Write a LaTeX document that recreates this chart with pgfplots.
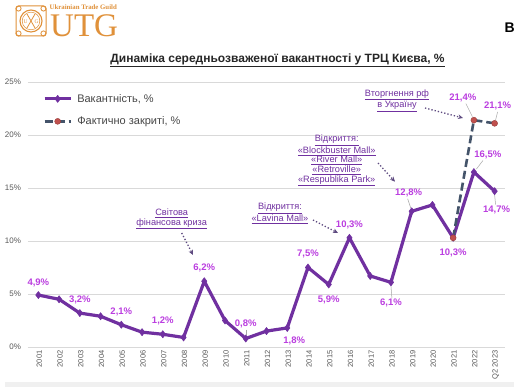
\documentclass[border=0pt]{standalone}
\usepackage{fontspec}
\setmainfont{Liberation Sans}
\newfontfamily\seriffont{Liberation Serif}
\usepackage{pgfplots}
\pgfplotsset{compat=1.18}
\usetikzlibrary{arrows.meta}
\definecolor{vac}{HTML}{7030A0}
\definecolor{lbl}{RGB}{187,62,224}
\definecolor{dsh}{HTML}{44546A}
\definecolor{red1}{HTML}{C0504D}
\definecolor{gridc}{HTML}{D9D9D9}
\definecolor{tickc}{HTML}{595959}
\definecolor{logo}{HTML}{E0913A}
\definecolor{arrc}{HTML}{5E4A80}
\definecolor{leadc}{HTML}{A6A6A6}
\begin{document}
\begin{tikzpicture}[
  dl/.style={font=\bfseries\fontsize{9.5}{10}\selectfont, text=lbl, inner sep=0pt},
  lead/.style={draw=leadc, line width=0.5pt},
  annot/.style={font=\fontsize{9.2}{9.6}\selectfont, text=vac, align=center, inner sep=0pt},
  arr/.style={draw=arrc, dotted, line width=1.3pt, -{Stealth[length=5pt,width=4.5pt]}}
]
\path[use as bounding box] (0,0) rectangle (514pt,387pt);
\fill[white] (0,0) rectangle (514pt,387pt);
\begin{axis}[
  at={(28pt,40pt)}, anchor=south west, scale only axis,
  width=477pt, height=265pt,
  xmin=-0.5, xmax=22.5, ymin=0, ymax=25,
  axis line style={draw=none},
  major tick length=0pt,
  ymajorgrids, grid style={gridc, line width=0.6pt},
  ytick={0,5,10,15,20,25},
  yticklabel={\pgfmathprintnumber{\tick}\%},
  /pgf/number format/assume math mode=true,
  yticklabel style={font=\fontsize{8}{9}\selectfont, text=tickc, xshift=-3.5pt},
  xtick={0,...,22},
  xticklabels={2001,2002,2003,2004,2005,2006,2007,2008,2009,2010,2011,2012,2013,2014,2015,2016,2017,2018,2019,2020,2021,2022,Q2 2023},
  xticklabel style={font=\fontsize{7.5}{8}\selectfont, text=tickc, rotate=90, anchor=east, yshift=-1pt},
  legend style={at={(axis description cs:0.027,0.97)}, anchor=north west, draw=none, fill=none,
    font=\fontsize{11}{12}\selectfont, text=tickc!80!black, row sep=9pt, inner sep=2pt},
  legend cell align=left,
  legend image code/.code={\draw[#1,mark repeat=2,mark phase=2] plot coordinates {(0pt,0pt) (13pt,0pt) (26pt,0pt)}; \path (29pt,0pt);},
  clip=false
]
\addplot[vac, line width=3.2pt, line join=round, mark=diamond*, mark size=3.6pt, mark options={solid, fill=vac, draw=vac, line width=0.5pt}]
  coordinates {(0,4.9) (1,4.5) (2,3.2) (3,2.9) (4,2.1) (5,1.4) (6,1.2) (7,0.9) (8,6.2) (9,2.5) (10,0.8) (11,1.5) (12,1.8) (13,7.5) (14,5.9) (15,10.3) (16,6.7) (17,6.1) (18,12.8) (19,13.4) (20,10.3) (21,16.5) (22,14.7)};
\addlegendentry{Вакантність, \%}
\addplot[dsh, line width=2.6pt, dash pattern=on 8pt off 4pt, mark=*, mark size=3pt, mark options={solid, fill=red1, draw=red1!80!black, line width=0.4pt}]
  coordinates {(20,10.3) (21,21.4) (22,21.1)};
\addlegendentry{Фактично закриті, \%}
% data labels
\node[dl] at ([yshift=12pt]axis cs:0,4.9) {4,9\%};
\node[dl] at ([yshift=13.5pt]axis cs:2,3.2) {3,2\%};
\node[dl] at ([yshift=13pt]axis cs:4,2.1) {2,1\%};
\node[dl] at ([yshift=13pt]axis cs:6,1.2) {1,2\%};
\node[dl] at ([yshift=13.5pt]axis cs:8,6.2) {6,2\%};
\node[dl] at ([yshift=14.5pt]axis cs:10,0.8) {0,8\%};
\draw[lead] ([yshift=9pt]axis cs:10,0.8) -- ([yshift=3.5pt]axis cs:10,0.8);
\node[dl] at ([xshift=7pt,yshift=-13pt]axis cs:12,1.8) {1,8\%};
\node[dl] at ([yshift=14pt]axis cs:13,7.5) {7,5\%};
\node[dl] at ([yshift=-15pt]axis cs:14,5.9) {5,9\%};
\node[dl] at ([yshift=13pt]axis cs:15,10.3) {10,3\%};
\node[dl] at ([yshift=-21pt]axis cs:17,6.1) {6,1\%};
\draw[lead] ([xshift=1pt,yshift=-16pt]axis cs:17,6.1) -- ([yshift=-3.5pt]axis cs:17,6.1);
\node[dl] at ([xshift=-3pt,yshift=18pt]axis cs:18,12.8) {12,8\%};
\draw[lead] ([xshift=-4pt,yshift=12.5pt]axis cs:18,12.8) -- ([xshift=-1pt,yshift=3.5pt]axis cs:18,12.8);
\node[dl] at ([yshift=-15pt]axis cs:20,10.3) {10,3\%};
\node[dl] at ([xshift=14pt,yshift=17pt]axis cs:21,16.5) {16,5\%};
\draw[lead] ([xshift=9pt,yshift=11.5pt]axis cs:21,16.5) -- ([xshift=2.5pt,yshift=3pt]axis cs:21,16.5);
\node[dl] at ([xshift=2pt,yshift=-19pt]axis cs:22,14.7) {14,7\%};
\draw[lead] ([xshift=1pt,yshift=-13.5pt]axis cs:22,14.7) -- ([yshift=-4pt]axis cs:22,14.7);
\node[dl] at ([xshift=-11pt,yshift=22pt]axis cs:21,21.4) {21,4\%};
\draw[lead] ([xshift=-8pt,yshift=16.5pt]axis cs:21,21.4) -- ([xshift=-1.5pt,yshift=3.5pt]axis cs:21,21.4);
\node[dl] at ([xshift=3pt,yshift=17pt]axis cs:22,21.1) {21,1\%};
\draw[lead] ([xshift=3pt,yshift=11.5pt]axis cs:22,21.1) -- ([xshift=1pt,yshift=3.5pt]axis cs:22,21.1);
\end{axis}
\begin{scope}[x=1pt,y=-1pt,yshift=387pt]
% title
\node[font=\bfseries\fontsize{12}{13}\selectfont, text=black!85] at (277.5,60) {\underline{Динаміка середньозваженої вакантності у ТРЦ Києва, \%}};
% annotations
\node[annot] at (171.7,219) {\underline{Світова}\\\underline{фінансова криза}};
\draw[arr] (181.7,233) -- (193,255);
\node[annot] at (280,213.5) {\underline{Відкриття:}\\\underline{«Lavina Mall»}};
\draw[arr] (313,220) -- (338,233);
\node[annot] at (336.7,160.5) {\underline{Відкриття:}\\\underline{«Blockbuster Mall»}\\\underline{«River Mall»}\\\underline{«Retroville»}\\\underline{«Respublika Park»}};
\draw[arr] (378,163) -- (395,181.7);
\node[annot] at (397,100.5) {\underline{Вторгнення рф}\\\underline{в Україну}};
\draw[arr] (425,108) -- (463,118);
% logo
\draw[logo, line width=1pt, rounded corners=3pt] (16,6) rectangle (46,36);
\foreach \cx/\cy in {18.5/8.5,43.5/8.5,18.5/33.5,43.5/33.5} \draw[logo, line width=0.8pt] (\cx,\cy) circle (2.6);
\draw[logo, line width=1.1pt] (31,21) circle (11);
\draw[logo, line width=0.5pt] (31,21) circle (8.8);
\draw[logo, line width=0.8pt] (27,14) -- (35,28) (35,14) -- (27,28);
\node[logo, font=\seriffont\fontsize{5.5}{6}\selectfont, inner sep=0pt] at (25.5,21.5) {U};
\node[logo, font=\seriffont\fontsize{5.5}{6}\selectfont, inner sep=0pt] at (36.5,21.5) {G};
\node[text=logo, font=\seriffont\fontsize{33}{34}\selectfont, anchor=base west, inner sep=0pt] at (50,36.5) {\raisebox{0pt}[23pt][0pt]{UTG}};
\node[text=logo, font=\seriffont\bfseries\fontsize{6.8}{7}\selectfont, anchor=base west, inner sep=0pt] at (49.5,9.5) {Ukrainian Trade Guild};
% top right cut-off heading
\node[font=\bfseries\fontsize{14}{15}\selectfont, anchor=base west, inner sep=0pt] at (504.5,33) {В};
% bottom band
\fill[black!6] (5,382) rectangle (514,387);
\end{scope}
\end{tikzpicture}
\end{document}
